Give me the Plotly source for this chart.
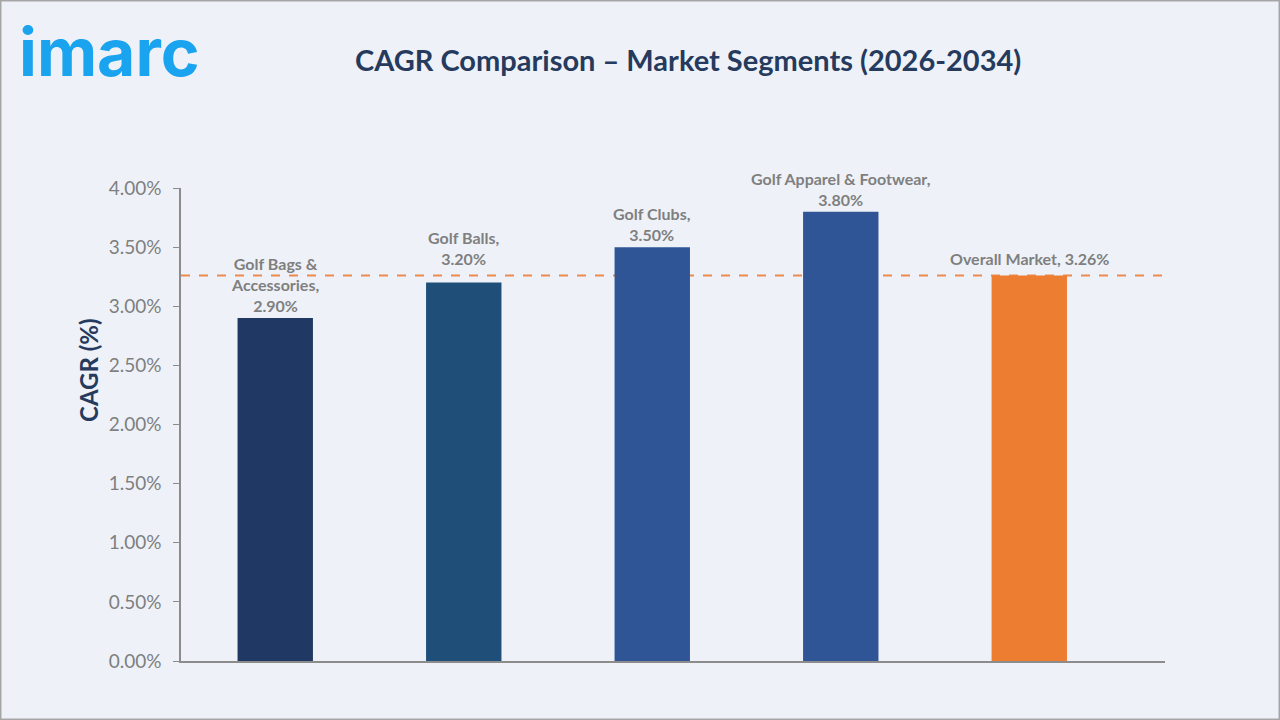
import plotly.graph_objects as go

categories = ["Golf Bags & Accessories", "Golf Balls", "Golf Clubs",
              "Golf Apparel & Footwear", "Overall Market"]
label_lines = ["Golf Bags &<br>Accessories,", "Golf Balls,", "Golf Clubs,",
               "Golf Apparel & Footwear,", "Overall Market,"]
cagr = [2.90, 3.20, 3.50, 3.80, 3.26]
bar_colors = ["#203864", "#1F4E79", "#2F5597", "#2F5597", "#ED7D31"]
overall_cagr = 3.26
y_ticks = [0, 0.5, 1.0, 1.5, 2.0, 2.5, 3.0, 3.5, 4.0]

# label offsets (pixels above the bar top)
label_shift = [1, 13, 1, 1, 6]

BG = "#EEF2F8"
GRAY = "#7F7F7F"
NAVY = "#263A5E"
FONT = "Lato"

W, H = 1280, 720
ML, MR, MT, MB = 181, 115, 188, 59
PW, PH = W - ML - MR, H - MT - MB


def px(x):
    return (x - ML) / PW


def py(y):
    return (H - MB - y) / PH


fig = go.Figure()
fig.add_trace(go.Bar(
    x=categories, y=cagr, marker=dict(color=bar_colors, line=dict(width=0)),
    width=0.4, hoverinfo="skip",
))

shapes = [
    # reference line for the overall market
    dict(type="line", xref="paper", yref="y", x0=0, x1=1,
         y0=overall_cagr, y1=overall_cagr,
         line=dict(color="#EC8A4C", width=2, dash="dash"), layer="below"),
    # outer frame
    dict(type="rect", xref="paper", yref="paper",
         x0=px(0), x1=px(W), y0=py(H), y1=py(0),
         line=dict(color="#A6A6A6", width=3), fillcolor="rgba(0,0,0,0)",
         layer="above"),
]

annotations = []
for i, (cat, lab, v) in enumerate(zip(categories, label_lines, cagr)):
    if i == len(categories) - 1:
        text = f"{lab} {v:.2f}%"
    else:
        text = f"{lab}<br>{v:.2f}%"
    annotations.append(dict(
        x=cat, y=v, xref="x", yref="y", text=text, showarrow=False,
        yanchor="bottom", yshift=label_shift[i],
        font=dict(family=FONT, size=16, color=GRAY, weight="bold"),
    ))

# logo
annotations.append(dict(
    x=px(17), y=py(10), xref="paper", yref="paper", text="imarc",
    showarrow=False, xanchor="left", yanchor="top",
    font=dict(family="Inter", size=66, color="#1AA3EE", weight="bold"),
))

# title
annotations.append(dict(
    x=px(688), y=py(59), xref="paper", yref="paper",
    text="CAGR Comparison – Market Segments (2026-2034)", showarrow=False,
    xanchor="center", yanchor="middle",
    font=dict(family=FONT, size=29, color=NAVY, weight="bold"),
))

# y-axis title
annotations.append(dict(
    x=px(88), y=py(370), xref="paper", yref="paper", text="CAGR (%)",
    showarrow=False, textangle=-90, xanchor="center", yanchor="middle",
    font=dict(family=FONT, size=24, color=NAVY, weight="bold"),
))

fig.update_layout(
    width=W, height=H,
    paper_bgcolor=BG, plot_bgcolor=BG,
    margin=dict(l=ML, r=MR, t=MT, b=MB),
    showlegend=False,
    annotations=annotations,
    shapes=shapes,
    xaxis=dict(
        type="category", range=[-0.5, 4.72], showticklabels=False,
        showline=True, linecolor="#8C8C8C", linewidth=1.5,
        showgrid=False, zeroline=False, ticks="", fixedrange=True,
    ),
    yaxis=dict(
        range=[0, 4.0], tickvals=y_ticks,
        ticktext=[f"{t:.2f}%" for t in y_ticks],
        showline=True, linecolor="#8C8C8C", linewidth=1.5,
        ticks="outside", ticklen=6, tickcolor="#8C8C8C",
        ticklabelstandoff=8,
        showgrid=False, zeroline=False,
        tickfont=dict(family=FONT, size=19, color=GRAY),
    ),
)

fig.write_html("out.html")
